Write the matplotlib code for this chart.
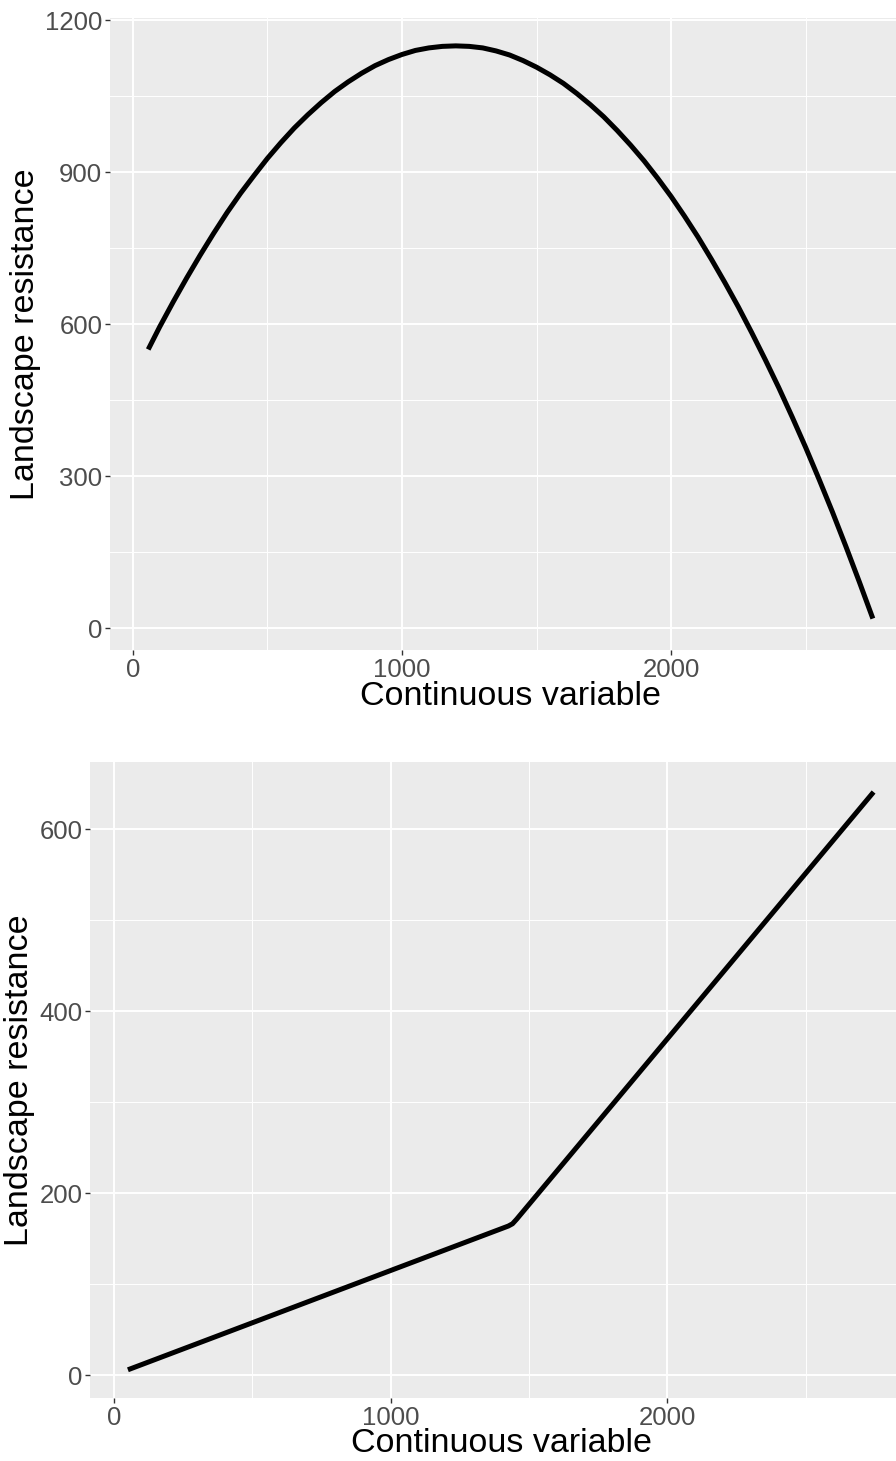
import numpy as np
import matplotlib.pyplot as plt
from matplotlib.ticker import MultipleLocator

# top panel: curve
x_top = [57, 100, 150, 200, 250, 300, 350, 400, 450, 500, 550, 600, 650, 700,
         750, 800, 850, 900, 950, 1000, 1050, 1100, 1150, 1200, 1250, 1300,
         1350, 1400, 1450, 1500, 1550, 1600, 1650, 1700, 1750, 1800, 1850,
         1900, 1950, 2000, 2050, 2100, 2150, 2200, 2250, 2300, 2350, 2400,
         2450, 2500, 2550, 2600, 2650, 2700, 2750]
y_top = [550, 595, 644, 691, 736, 779, 820, 858, 893, 927, 958, 987, 1013,
         1037, 1059, 1078, 1095, 1110, 1122, 1132, 1140, 1145, 1148, 1149,
         1148, 1145, 1139, 1131, 1120, 1107, 1092, 1075, 1055, 1033, 1009,
         982, 953, 922, 888, 852, 813, 772, 728, 682, 634, 583, 530, 475,
         417, 357, 294, 229, 161, 91, 19]

# bottom panel: piecewise line with a slightly rounded kink
x_bot = [50, 1425, 1440, 1455, 2745]
y_bot = [6, 164, 166.5, 171.5, 641]

xlabel = "Continuous variable"
ylabel = "Landscape resistance"

plt.rcParams['font.family'] = ['Liberation Sans', 'DejaVu Sans']

W, H = 896, 1461
fig = plt.figure(figsize=(W/100, H/100), dpi=100)

def style(ax, xmaj, ymaj):
    ax.set_facecolor('#EBEBEB')
    for s in ax.spines.values():
        s.set_visible(False)
    ax.xaxis.set_major_locator(MultipleLocator(xmaj))
    ax.xaxis.set_minor_locator(MultipleLocator(xmaj/2))
    ax.yaxis.set_major_locator(MultipleLocator(ymaj))
    ax.yaxis.set_minor_locator(MultipleLocator(ymaj/2))
    ax.grid(which='major', color='white', linewidth=1.4)
    ax.grid(which='minor', color='white', linewidth=0.7)
    ax.set_axisbelow(True)
    ax.tick_params(which='major', length=3.5, width=1.0, color='#333333',
                   labelsize=18.5, labelcolor='#4D4D4D', pad=2)
    ax.tick_params(which='minor', length=0)
    ax.set_xlabel(xlabel, fontsize=24.5, color='black', labelpad=0)
    ax.set_ylabel(ylabel, fontsize=24.5, color='black', labelpad=3)

ax1 = fig.add_axes([110/W, 1-650/H, 1-110/W, (650-18)/H])
ax1.plot(x_top, y_top, color='black', linewidth=3.6, solid_capstyle='butt')
style(ax1, 1000, 300)
ax1.set_xlim(-85, 2836)
ax1.set_ylim(-43, 1204)
ax1.xaxis.set_label_coords(0.509, -0.049)

ax2 = fig.add_axes([90/W, 1-1398/H, 1-90/W, (1398-762)/H])
ax2.plot(x_bot, y_bot, color='black', linewidth=3.6, solid_capstyle='butt')
style(ax2, 1000, 200)
ax2.set_xlim(-87, 2826)
ax2.set_ylim(-25, 674)
ax2.xaxis.set_label_coords(0.51, -0.047)

fig.savefig('out.png', dpi=100)
